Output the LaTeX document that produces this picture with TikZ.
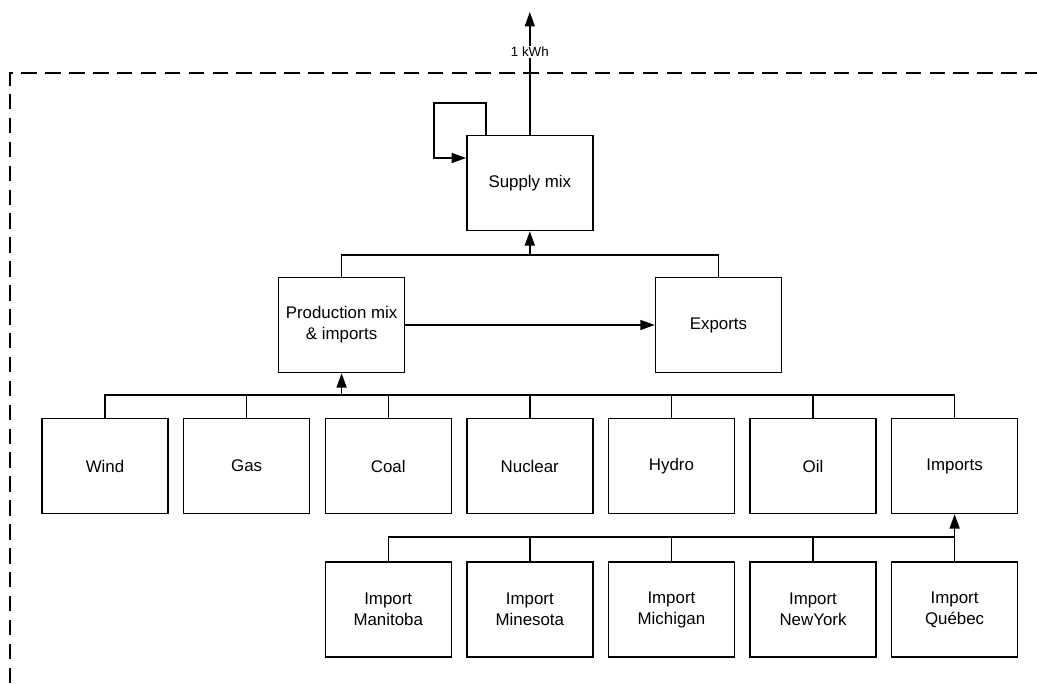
\documentclass[tikz,border=0pt]{standalone}
\usepackage{fontspec}
\setmainfont{Liberation Sans}
\usetikzlibrary{calc,arrows.meta}

\begin{document}
\begin{tikzpicture}[
    box/.style={draw,line width=1pt,minimum width=3.15cm,minimum height=2.375cm,align=center,font=\fontsize{12}{15}\selectfont},
    link/.style={line width=1pt,-{Triangle[length=3.6mm,width=2.5mm]}},
    wire/.style={line width=1pt}
  ]

    \useasboundingbox (0,0) rectangle (25.925,17.075);

    % System boundary
    \draw[line width=1pt,dash pattern=on 11pt off 6pt] (0.25,0) -- (0.25,15.25) -- (25.925,15.25);

    % Supply
    \node[box] at (13.245,12.5) (Supply) {Supply mix} ;
    \coordinate (Out) at (13.245,16.775);
    \draw[link] (Supply.north) -- (Out);
    \node[fill=white,inner sep=1pt,font=\fontsize{9.5}{11}\selectfont] at (13.245,15.775) (Kwh) {1 kWh} ;
    \draw[link] ([xshift=-1.1cm]Supply.north) -- ++(0,0.79) -- ++(-1.3,0) |- ([yshift=0.625cm]Supply.west);

    % Production and exports
    \node[box] at (8.54,8.95) (Prod) {Production mix\\\& imports} ;
    \node[box] at (17.96,8.95) (Exports) {Exports} ;
    \coordinate (Bus0) at (13.245,10.7);

    \draw[wire] (Prod.north) |- (Bus0);
    \draw[wire] (Exports.north) |- (Bus0);
    \draw[link] (Bus0) -- (Supply.south);
    \draw[link] (Prod.east) -- (Exports.west);

    % Sources
    \node[box] at (2.625,5.425) (Wind) {Wind} ;
    \node[box] at (6.165,5.425) (Gas) {Gas} ;
    \node[box] at (9.705,5.425) (Coal) {Coal} ;
    \node[box] at (13.245,5.425) (Nuclear) {Nuclear} ;
    \node[box] at (16.785,5.425) (Hydro) {Hydro} ;
    \node[box] at (20.325,5.425) (Oil) {Oil} ;
    \node[box] at (23.865,5.425) (Imports) {Imports} ;
    \coordinate (Bus1) at (8.54,7.2);

    \draw[wire] (Wind.north) |- (Bus1);
    \draw[wire] (Gas.north) |- (Bus1);
    \draw[wire] (Coal.north) |- (Bus1);
    \draw[wire] (Nuclear.north) |- (Bus1);
    \draw[wire] (Hydro.north) |- (Bus1);
    \draw[wire] (Oil.north) |- (Bus1);
    \draw[wire] (Imports.north) |- (Bus1);
    \draw[link] (Bus1) -- (Prod.south);

    % Imports by region
    \node[box] at (9.705,1.8375) (ImpMan) {Import\\Manitoba} ;
    \node[box] at (13.245,1.8375) (ImpMin) {Import\\Minesota} ;
    \node[box] at (16.785,1.8375) (ImpMic) {Import\\Michigan} ;
    \node[box] at (20.325,1.8375) (ImpNy) {Import\\NewYork} ;
    \node[box] at (23.865,1.8375) (ImpQc) {Import\\Québec} ;
    \coordinate (Bus2) at (23.865,3.65);

    \draw[wire] (ImpMan.north) |- (Bus2);
    \draw[wire] (ImpMin.north) |- (Bus2);
    \draw[wire] (ImpMic.north) |- (Bus2);
    \draw[wire] (ImpNy.north) |- (Bus2);
    \draw[link] (ImpQc.north) -- (Imports.south);

\end{tikzpicture}
\end{document}
